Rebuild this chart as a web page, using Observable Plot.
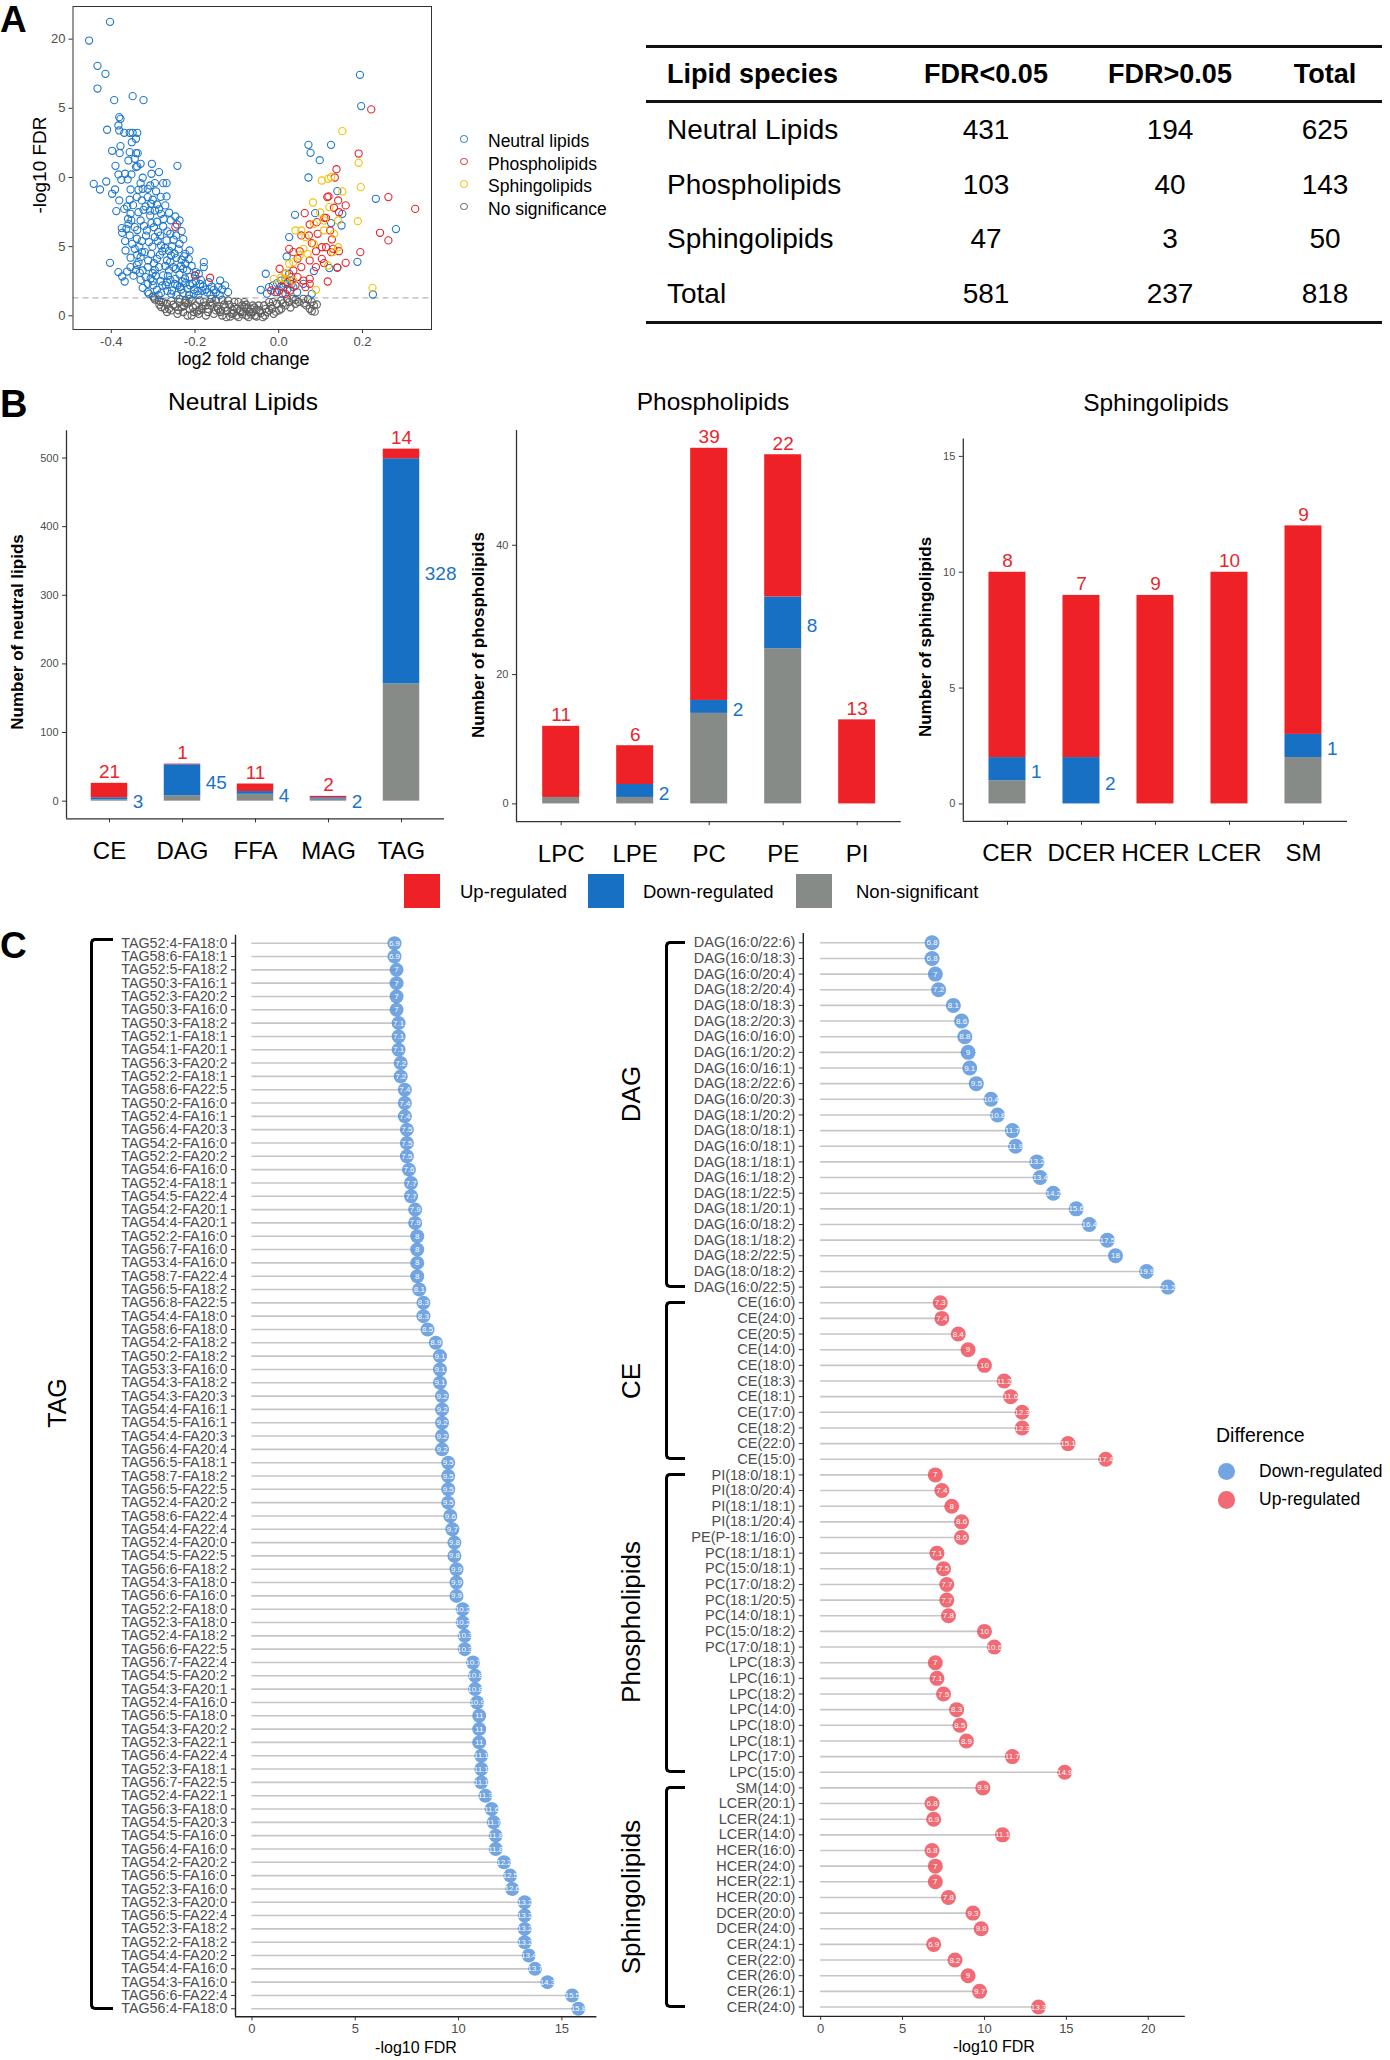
<!DOCTYPE html>
<html><head><meta charset="utf-8">
<script src="https://cdn.jsdelivr.net/npm/d3@7"></script>
<script src="https://cdn.jsdelivr.net/npm/@observablehq/plot@0.6"></script>
<style>
html,body{margin:0;padding:0;background:#fff;}
#fig{position:relative;width:1390px;height:2060px;font-family:"Liberation Sans",Arial,Helvetica,sans-serif;color:#000;overflow:hidden;background:#fff;}
.pbox{position:absolute;}
.pbox svg{background:none !important;overflow:visible;display:block;}
.letter{position:absolute;font-weight:bold;font-size:37px;line-height:1;}
.vlab{position:absolute;transform:translate(-50%,-50%) rotate(-90deg);white-space:nowrap;line-height:1;}
.hlab{position:absolute;transform:translate(-50%,-50%);white-space:nowrap;line-height:1;}
.lt{position:absolute;transform:translateY(-50%);white-space:nowrap;line-height:1;}
#pA g[aria-label^="x-axis"] text,#pA g[aria-label^="y-axis"] text{font-size:13px;fill:#4d4d4d;}
.bar g[aria-label^="y-axis"] text{font-size:11px;fill:#4d4d4d;}
.bar g[aria-label^="x-axis"] text{font-size:24px;fill:#000;}
#pC1 g[aria-label^="y-axis"] text{font-size:14.3px;fill:#4d4d4d;}
#pC2 g[aria-label^="y-axis"] text{font-size:14.5px;fill:#4d4d4d;}
.lol g[aria-label^="x-axis"] text{font-size:13px;fill:#4d4d4d;}
#tbl{position:absolute;left:646px;top:45px;width:736px;border-collapse:collapse;table-layout:fixed;}
#tbl th{font-weight:bold;font-size:27px;height:52px;padding:0;}
#tbl td{font-size:28px;height:54.5px;padding:0;}
#tbl thead tr{border-top:3px solid #111;border-bottom:3px solid #111;}
#tbl tbody tr:last-child{border-bottom:3px solid #111;}
#tbl .c1{text-align:left;padding-left:21px;}
#tbl .cn{text-align:center;}
.sq{position:absolute;}
.circ{position:absolute;border-radius:50%;box-sizing:border-box;}
.brk{position:absolute;border:3px solid #000;border-right:none;border-radius:5px 0 0 5px;box-sizing:border-box;}
</style>
</head>
<body>
<div id="fig"></div>
<script>
// ---------------- DATA ----------------
// Panel A volcano: [log2 fold change, -log10 FDR]
const neutralLipidPoints = [[-0.453,19.9],[-0.403,21.25],[-0.433,18.07],[-0.414,17.49],[-0.433,16.43],[-0.393,15.59],[-0.349,15.88],[-0.323,15.59],[-0.381,14.36],[-0.378,14.24],[-0.410,13.45],[-0.383,13.76],[-0.381,13.40],[-0.369,13.23],[-0.356,13.23],[-0.349,13.23],[-0.338,13.23],[-0.341,12.80],[-0.351,12.55],[-0.378,12.27],[-0.398,11.93],[-0.380,11.76],[-0.356,11.83],[-0.341,11.76],[-0.337,11.76],[-0.359,11.23],[-0.344,11.35],[-0.330,10.99],[-0.303,10.99],[-0.390,10.84],[-0.341,10.75],[-0.338,10.80],[-0.242,10.84],[-0.383,10.22],[-0.367,10.27],[-0.352,10.22],[-0.325,9.98],[-0.304,10.27],[-0.286,10.39],[-0.376,9.83],[-0.361,9.86],[-0.442,9.54],[-0.412,9.71],[-0.427,9.13],[-0.398,8.82],[-0.391,9.13],[-0.354,9.13],[-0.335,9.11],[-0.325,9.18],[-0.313,9.18],[-0.296,9.59],[-0.276,9.59],[-0.268,9.59],[-0.330,9.59],[-0.307,9.42],
[-0.381,8.34],[-0.356,8.39],[-0.339,8.58],[-0.327,8.34],[-0.313,8.58],[-0.301,8.39],[-0.291,8.05],[-0.268,8.63],[-0.271,7.98],
[-0.388,7.57],[-0.369,7.73],[-0.354,7.37],[-0.335,7.49],[-0.323,7.66],[-0.307,7.25],[-0.296,7.61],[-0.281,7.37],[-0.262,7.45],[-0.237,6.89],[-0.247,7.18],
[-0.375,6.34],[-0.359,6.65],[-0.344,6.41],[-0.330,6.89],[-0.315,6.17],[-0.304,6.70],[-0.288,6.05],[-0.276,6.46],[-0.259,5.93],[-0.232,6.12],[-0.228,5.54],[-0.374,6.00],[-0.364,6.29],
[-0.356,5.81],[-0.339,5.57],[-0.327,5.40],[-0.310,5.33],[-0.296,5.69],[-0.281,5.08],[-0.268,5.45],[-0.255,5.01],[-0.245,5.81],[-0.237,5.20],[-0.213,4.72],[-0.223,4.48],
[-0.366,4.72],[-0.344,4.84],[-0.330,4.24],[-0.320,4.60],[-0.305,4.48],[-0.291,4.12],[-0.278,4.67],[-0.267,4.00],[-0.257,4.36],[-0.245,4.19],[-0.232,4.05],[-0.223,3.76],[-0.403,3.83],[-0.335,3.88],
[-0.383,3.16],[-0.374,2.84],[-0.354,3.52],[-0.339,3.69],[-0.325,3.28],[-0.313,3.52],[-0.301,3.08],[-0.286,3.52],[-0.276,2.92],[-0.262,3.28],[-0.252,3.52],[-0.237,2.99],[-0.228,3.40],[-0.213,2.80],[-0.198,3.16],[-0.179,3.88],[-0.179,3.52],[-0.191,3.04],
[-0.368,2.48],[-0.330,2.60],[-0.325,2.02],[-0.313,2.31],[-0.301,2.51],[-0.291,1.88],[-0.278,2.19],[-0.267,2.43],[-0.255,1.83],[-0.242,2.19],[-0.230,2.48],[-0.218,1.95],[-0.206,2.31],[-0.194,1.78],[-0.181,2.12],[-0.167,2.43],[-0.155,1.88],[-0.140,2.55],[-0.145,2.07],[-0.121,1.71],[-0.310,1.59],[-0.281,1.64],[-0.257,1.59],[-0.228,1.64],[-0.203,1.59],[-0.171,1.69],[-0.313,1.71],[-0.198,2.51],[-0.223,2.36],[-0.247,2.67],[-0.265,2.89],
[-0.362,7.9],[-0.348,8.0],[-0.318,7.9],[-0.305,8.1],[-0.286,7.7],[-0.275,7.0],[-0.352,6.9],[-0.338,6.2],[-0.322,6.5],[-0.298,6.4],[-0.283,5.8],[-0.266,6.1],[-0.251,5.5],[-0.243,6.6],[-0.350,5.2],[-0.333,5.0],[-0.317,5.8],[-0.302,5.0],[-0.289,5.4],[-0.272,4.9],[-0.262,4.7],[-0.249,4.5],[-0.239,4.8],[-0.226,4.3],[-0.215,4.1],[-0.354,4.2],[-0.338,4.4],[-0.312,4.0],[-0.298,3.8],[-0.284,4.4],[-0.271,3.6],[-0.259,3.9],[-0.246,3.4],[-0.234,3.6],[-0.219,3.3],[-0.208,3.6],[-0.200,2.9],[-0.186,2.6],[-0.362,3.2],[-0.347,2.9],[-0.332,3.1],[-0.318,2.8],[-0.306,2.7],[-0.294,2.9],[-0.282,2.5],[-0.270,2.2],[-0.259,2.6],[-0.248,2.3],[-0.236,2.1],[-0.224,2.7],[-0.212,2.2],[-0.203,1.9],[-0.188,2.3],[-0.175,1.9],[-0.160,2.1],[-0.150,1.7],[-0.135,1.9],[-0.128,2.2],[-0.300,2.2],[-0.287,1.5],[-0.266,1.8],[-0.244,1.5],[-0.233,1.9],[-0.214,1.5],[-0.192,1.5],[-0.183,1.8],[-0.163,1.5],[-0.141,1.5],[-0.296,3.3],[-0.341,3.3],[-0.327,4.6],[-0.367,5.4],[-0.360,7.0],[-0.291,6.8],[-0.258,6.9],[-0.308,7.6],[-0.293,9.0],[-0.282,8.6],
[-0.031,3.04],[-0.043,1.88],[-0.023,2.07],[-0.014,2.19],[-0.004,2.36],[0.006,2.55],[0.011,2.07],[0.001,1.83],[0.016,2.67],[0.025,3.04],[-0.009,1.71],[0.016,2.31],[0.027,2.55],[0.019,4.29],[0.025,5.69],[0.039,7.30],[0.071,10.00],[0.076,11.78],[0.071,12.36],[0.125,12.36],[0.098,11.25],[0.140,9.01],[0.232,8.46],[0.087,7.42],[0.125,6.70],[0.150,6.53],[0.280,6.27],[0.188,3.90],[0.140,3.49],[0.121,3.45],[0.225,1.54],[0.079,1.59],[0.194,17.42],[0.197,15.16],[0.084,3.23],[0.059,2.31],[0.035,2.07],[0.152,7.37],[0.009,1.6],[0.021,1.9],[0.031,2.3],[0.044,1.7],[-0.028,1.6]];
const phospholipidPoints = [[0.221,14.92],[0.262,8.58],[0.326,7.73],[0.242,6.00],[0.262,5.45],[0.195,4.60],[0.160,3.83],[0.140,3.49],[0.117,2.48],[0.191,11.73],[0.138,10.60],[0.134,10.00],[0.116,8.58],[0.119,8.63],[0.142,8.34],[0.160,7.98],[0.132,7.81],[0.144,7.49],[0.062,7.42],[0.113,7.08],[0.109,7.08],[0.074,6.60],[0.091,6.77],[0.123,6.17],[0.093,5.93],[0.072,5.81],[0.054,5.81],[0.079,5.25],[0.103,4.96],[0.113,4.96],[0.089,4.67],[0.127,5.52],[0.130,4.84],[0.144,4.67],[0.125,4.60],[0.025,4.84],[0.035,4.60],[0.050,4.67],[0.045,4.12],[0.074,4.00],[0.103,4.12],[0.089,3.52],[0.108,3.81],[0.054,3.52],[0.035,3.28],[0.016,3.04],[0.030,2.80],[0.045,2.80],[0.059,2.55],[0.074,2.67],[0.020,2.43],[0.006,2.12],[-0.004,1.71],[0.016,1.59],[0.027,1.83],[0.040,2.19],[0.064,2.07],[0.002,3.40],[-0.247,6.43],[-0.200,2.92],[-0.164,2.75],[-0.018,1.83],[0.074,2.31]];
const sphingolipidPoints = [[0.152,13.35],[0.191,11.06],[0.196,9.30],[0.189,6.84],[0.224,2.02],[0.152,8.99],[0.103,9.78],[0.118,9.90],[0.125,10.02],[0.082,8.19],[0.099,7.47],[0.040,6.17],[0.084,6.65],[0.121,7.86],[0.142,6.89],[0.132,5.93],[0.108,6.17],[0.054,6.17],[0.064,5.69],[0.084,5.20],[0.142,4.96],[0.130,4.60],[0.059,4.84],[0.069,4.48],[0.050,4.36],[0.035,3.88],[0.025,3.76],[0.016,3.04],[-0.012,2.67],[0.006,2.75],[0.089,1.88],[0.016,2.67],[0.035,2.55],[0.118,3.64],[0.108,6.89]];
const noSignificancePoints = [[-0.298,1.30],[-0.296,1.18],[-0.267,0.27],[-0.276,0.99],[-0.267,0.87],[-0.257,1.06],[-0.247,0.67],[-0.237,1.23],[-0.232,0.63],[-0.223,0.94],[-0.213,0.51],[-0.208,1.11],[-0.198,0.75],[-0.191,0.14],[-0.184,0.51],[-0.179,0.99],[-0.169,0.27],[-0.161,0.75],[-0.155,0.14],[-0.150,1.11],[-0.145,0.51],[-0.135,0.02],[-0.130,0.82],[-0.123,0.39],[-0.121,1.11],[-0.113,0.14],[-0.106,0.63],[-0.101,0.02],[-0.093,0.39],[-0.087,0.10],[-0.082,0.63],[-0.077,0.02],[-0.070,0.27],[-0.062,0.75],[-0.057,0.02],[-0.053,0.43],[-0.043,0.19],[-0.035,0.75],[-0.028,0.27],[-0.023,0.99],[-0.016,0.51],[-0.012,0.14],[-0.004,0.87],[0.006,1.11],[0.016,0.75],[0.025,0.99],[0.033,1.23],[0.040,0.87],[0.059,1.23],[0.066,0.75],[0.074,0.51],[0.079,0.99],[0.084,0.75],[0.091,0.82],[0.079,0.34],[-0.281,0.63],[-0.257,0.39],[-0.242,0.14],[-0.228,0.27],[-0.218,0.02],[-0.203,0.27],[-0.174,0.02],[-0.140,0.27],[-0.116,-0.05],[-0.096,-0.10],[-0.072,-0.10],[-0.053,-0.05],[-0.033,0.02],[-0.213,1.23],[-0.189,1.11],[-0.160,1.23],[-0.135,1.16],[-0.096,0.99],[-0.082,0.99],[-0.237,0.99],[-0.262,0.51],[-0.281,0.99],[-0.208,0.02],[-0.125,-0.10],[-0.091,0.27],[-0.067,0.51],[-0.048,0.75],[-0.023,0.39],[0.006,0.51],[0.020,1.23],[0.040,1.16],[-0.301,1.40],[-0.286,1.11],[-0.223,1.11],[-0.174,0.75],[-0.164,0.99],[-0.106,0.99],[-0.087,0.75],[-0.062,0.27],[-0.038,-0.10],[-0.014,0.99],[0.001,0.39],[-0.150,0.39],[-0.190,0.40],[-0.110,0.40],[-0.075,0.60],
[-0.285,0.8],[-0.272,0.5],[-0.252,0.8],[-0.240,0.4],[-0.226,0.7],[-0.216,0.9],[-0.205,0.6],[-0.195,0.3],[-0.182,0.7],[-0.170,0.5],[-0.158,0.9],[-0.147,0.7],[-0.138,0.4],[-0.128,0.6],[-0.118,0.8],[-0.108,0.2],[-0.099,0.5],[-0.085,0.3],[-0.078,0.8],[-0.066,0.1],[-0.058,0.6],[-0.046,0.4],[-0.031,0.5],[-0.019,0.7],[-0.007,0.3],[0.010,0.9],[0.028,0.6],[0.048,1.0],[0.070,1.2],[0.086,0.3],[0.060,0.9]];
const fdrThreshold = 1.301;
const volcanoXTicks = [-0.4,-0.2,0.0,0.2];
const volcanoYTicks = [0,5,10,15,20];
const volcanoYTickLabels = ["0","5","0","5","20"];
const volcanoLegend = ["Neutral lipids","Phospholipids","Sphingolipids","No significance"];

// Panel A table
const tableHeader = ["Lipid species","FDR<0.05","FDR>0.05","Total"];
const tableSpecies = ["Neutral Lipids","Phospholipids","Sphingolipids","Total"];
const tableFdrLow = [431,103,47,581];
const tableFdrHigh = [194,40,3,237];
const tableTotal = [625,143,50,818];

// Panel B stacked bars
const statusNames = ["Up-regulated","Down-regulated","Non-significant"];
const neutralCats = ["CE","DAG","FFA","MAG","TAG"];
const neutralUp = [21,1,11,2,14];
const neutralDown = [3,45,4,2,328];
const neutralNS = [2,8,10,3,171];
const phosphoCats = ["LPC","LPE","PC","PE","PI"];
const phosphoUp = [11,6,39,22,13];
const phosphoDown = [0,2,2,8,0];
const phosphoNS = [1,1,14,24,0];
const sphingoCats = ["CER","DCER","HCER","LCER","SM"];
const sphingoUp = [8,7,9,10,9];
const sphingoDown = [1,2,0,0,1];
const sphingoNS = [1,0,0,0,2];

// Panel C lollipops (-log10 FDR)
const tagNames = ["TAG52:4-FA18:0","TAG58:6-FA18:1","TAG52:5-FA18:2","TAG50:3-FA16:1","TAG52:3-FA20:2","TAG50:3-FA16:0","TAG50:3-FA18:2","TAG52:1-FA18:1","TAG54:1-FA20:1","TAG56:3-FA20:2","TAG52:2-FA18:1","TAG58:6-FA22:5","TAG50:2-FA16:0","TAG52:4-FA16:1","TAG56:4-FA20:3","TAG54:2-FA16:0","TAG52:2-FA20:2","TAG54:6-FA16:0","TAG52:4-FA18:1","TAG54:5-FA22:4","TAG54:2-FA20:1","TAG54:4-FA20:1","TAG52:2-FA16:0","TAG56:7-FA16:0","TAG53:4-FA16:0","TAG58:7-FA22:4","TAG56:5-FA18:2","TAG56:8-FA22:5","TAG54:4-FA18:0","TAG58:6-FA18:0","TAG54:2-FA18:2","TAG50:2-FA18:2","TAG53:3-FA16:0","TAG54:3-FA18:2","TAG54:3-FA20:3","TAG54:4-FA16:1","TAG54:5-FA16:1","TAG54:4-FA20:3","TAG56:4-FA20:4","TAG56:5-FA18:1","TAG58:7-FA18:2","TAG56:5-FA22:5","TAG52:4-FA20:2","TAG58:6-FA22:4","TAG54:4-FA22:4","TAG52:4-FA20:0","TAG54:5-FA22:5","TAG56:6-FA18:2","TAG54:3-FA18:0","TAG56:6-FA16:0","TAG52:2-FA18:0","TAG52:3-FA18:0","TAG52:4-FA18:2","TAG56:6-FA22:5","TAG56:7-FA22:4","TAG54:5-FA20:2","TAG54:3-FA20:1","TAG52:4-FA16:0","TAG56:5-FA18:0","TAG54:3-FA20:2","TAG52:3-FA22:1","TAG56:4-FA22:4","TAG52:3-FA18:1","TAG56:7-FA22:5","TAG52:4-FA22:1","TAG56:3-FA18:0","TAG54:5-FA20:3","TAG54:5-FA16:0","TAG56:4-FA16:0","TAG54:2-FA20:2","TAG56:5-FA16:0","TAG52:3-FA16:0","TAG52:3-FA20:0","TAG56:5-FA22:4","TAG52:3-FA18:2","TAG52:2-FA18:2","TAG54:4-FA20:2","TAG54:4-FA16:0","TAG54:3-FA16:0","TAG56:6-FA22:4","TAG56:4-FA18:0"];
const tagFDR = [6.9,6.9,7,7,7,7,7.1,7.1,7.1,7.2,7.2,7.4,7.4,7.4,7.5,7.5,7.5,7.6,7.7,7.7,7.9,7.9,8,8,8,8,8.1,8.3,8.3,8.5,8.9,9.1,9.1,9.1,9.2,9.2,9.2,9.2,9.2,9.5,9.5,9.5,9.5,9.6,9.7,9.8,9.8,9.9,9.9,9.9,10.2,10.2,10.3,10.3,10.7,10.8,10.8,10.9,11,11,11,11.1,11.1,11.1,11.3,11.6,11.7,11.8,11.8,12.2,12.5,12.6,13.2,13.2,13.2,13.2,13.4,13.7,14.3,15.5,15.8];
const dagNames = ["DAG(16:0/22:6)","DAG(16:0/18:3)","DAG(16:0/20:4)","DAG(18:2/20:4)","DAG(18:0/18:3)","DAG(18:2/20:3)","DAG(16:0/16:0)","DAG(16:1/20:2)","DAG(16:0/16:1)","DAG(18:2/22:6)","DAG(16:0/20:3)","DAG(18:1/20:2)","DAG(18:0/18:1)","DAG(16:0/18:1)","DAG(18:1/18:1)","DAG(16:1/18:2)","DAG(18:1/22:5)","DAG(18:1/20:1)","DAG(16:0/18:2)","DAG(18:1/18:2)","DAG(18:2/22:5)","DAG(18:0/18:2)","DAG(16:0/22:5)"];
const dagFDR = [6.8,6.8,7,7.2,8.1,8.6,8.8,9,9.1,9.5,10.4,10.8,11.7,11.9,13.2,13.4,14.2,15.6,16.4,17.5,18,19.9,21.2];
const ceNames = ["CE(16:0)","CE(24:0)","CE(20:5)","CE(14:0)","CE(18:0)","CE(18:3)","CE(18:1)","CE(17:0)","CE(18:2)","CE(22:0)","CE(15:0)"];
const ceFDR = [7.3,7.4,8.4,9,10,11.2,11.6,12.3,12.3,15.1,17.4];
const plNames = ["PI(18:0/18:1)","PI(18:0/20:4)","PI(18:1/18:1)","PI(18:1/20:4)","PE(P-18:1/16:0)","PC(18:1/18:1)","PC(15:0/18:1)","PC(17:0/18:2)","PC(18:1/20:5)","PC(14:0/18:1)","PC(15:0/18:2)","PC(17:0/18:1)","LPC(18:3)","LPC(16:1)","LPC(18:2)","LPC(14:0)","LPC(18:0)","LPC(18:1)","LPC(17:0)","LPC(15:0)"];
const plFDR = [7,7.4,8,8.6,8.6,7.1,7.5,7.7,7.7,7.8,10,10.6,7,7.1,7.5,8.3,8.5,8.9,11.7,14.9];
const slNames = ["SM(14:0)","LCER(20:1)","LCER(24:1)","LCER(14:0)","HCER(16:0)","HCER(24:0)","HCER(22:1)","HCER(20:0)","DCER(20:0)","DCER(24:0)","CER(24:1)","CER(22:0)","CER(26:0)","CER(26:1)","CER(24:0)"];
const slFDR = [9.9,6.8,6.9,11.1,6.8,7,7,7.8,9.3,9.8,6.9,8.2,9,9.7,13.3];
const differenceNames = ["Down-regulated","Up-regulated"];

// ---------------- STYLE ----------------
const FONT = "Liberation Sans, Arial, Helvetica, sans-serif";
const colNeutral = "#1F77C9", colPhospho = "#E8242A", colSphingo = "#F5C000", colNoSig = "#5E5E5E";
const barColors = ["#EE2226","#1870C5","#878B88"];
const upText = "#E8262B", downText = "#1A73C8";
const lolBlue = "#4F8FD9", lolRed = "#EE4653";

const fig = document.getElementById("fig");
function el(tag, cls, css, text) {
  const e = document.createElement(tag);
  if (cls) e.className = cls;
  if (css) e.style.cssText = css;
  if (text != null) e.textContent = text;
  fig.appendChild(e);
  return e;
}
function box(id, cls, left, top, w, h, svg) {
  const d = el("div", "pbox " + (cls||""), `left:${left}px;top:${top}px;width:${w}px;height:${h}px;`);
  d.id = id;
  d.appendChild(svg);
  return d;
}
const baseStyle = {background: "none", overflow: "visible", fontFamily: FONT, color: "#333"};

// ---------------- PANEL A ----------------
el("div", "letter", "left:0px;top:1px;", "A");
const pt = a => ({x: a[0], y: a[1]});
const volcano = Plot.plot({
  width: 440, height: 375, marginLeft: 72.5, marginRight: 9, marginTop: 6, marginBottom: 46,
  style: baseStyle,
  x: {domain: [-0.4915, 0.365], ticks: volcanoXTicks, tickFormat: d => d.toFixed(1), tickSize: 4, tickPadding: 3, label: null},
  y: {domain: [-0.99, 22.36], ticks: volcanoYTicks, tickFormat: d => volcanoYTickLabels[volcanoYTicks.indexOf(d)], tickSize: 4, tickPadding: 3.5, label: null},
  marks: [
    Plot.ruleY([fdrThreshold], {stroke: "#b8b8b8", strokeWidth: 1.2, strokeDasharray: "6,4"}),
    Plot.dot(noSignificancePoints.map(pt), {x: "x", y: "y", r: 3.6, stroke: colNoSig, strokeWidth: 1.1}),
    Plot.dot(neutralLipidPoints.map(pt), {x: "x", y: "y", r: 3.6, stroke: colNeutral, strokeWidth: 1.1}),
    Plot.dot(phospholipidPoints.map(pt), {x: "x", y: "y", r: 3.6, stroke: colPhospho, strokeWidth: 1.1}),
    Plot.dot(sphingolipidPoints.map(pt), {x: "x", y: "y", r: 3.6, stroke: colSphingo, strokeWidth: 1.1}),
    Plot.frame({stroke: "#333", strokeWidth: 1})
  ]
});
box("pA", "", 0, 0, 440, 375, volcano);
el("div", "hlab", "left:243.5px;top:359px;font-size:18px;", "log2 fold change");
el("div", "vlab", "left:39px;top:165px;font-size:19px;", "-log10 FDR");
const legACols = [colNeutral, colPhospho, colSphingo, colNoSig];
const legAY = [139, 161.5, 184, 206.5];
volcanoLegend.forEach((t, i) => {
  el("div", "circ", `left:${464-3.8}px;top:${legAY[i]-3.8}px;width:7.6px;height:7.6px;border:1.2px solid ${legACols[i]};`);
  el("div", "lt", `left:488px;top:${legAY[i]+3}px;font-size:17.5px;`, t);
});

// table
const tbl = document.createElement("table");
tbl.id = "tbl";
const cg = document.createElement("colgroup");
[254,172,196,114].forEach(w => { const c = document.createElement("col"); c.style.width = w + "px"; cg.appendChild(c); });
tbl.appendChild(cg);
const thead = document.createElement("thead");
const htr = document.createElement("tr");
tableHeader.forEach((h, i) => { const th = document.createElement("th"); th.className = i ? "cn" : "c1"; th.textContent = h; htr.appendChild(th); });
thead.appendChild(htr); tbl.appendChild(thead);
const tbody = document.createElement("tbody");
tableSpecies.forEach((s, i) => {
  const tr = document.createElement("tr");
  [s, tableFdrLow[i], tableFdrHigh[i], tableTotal[i]].forEach((v, j) => {
    const td = document.createElement("td"); td.className = j ? "cn" : "c1"; td.textContent = String(v); tr.appendChild(td);
  });
  tbody.appendChild(tr);
});
tbl.appendChild(tbody);
fig.appendChild(tbl);

// ---------------- PANEL B ----------------
el("div", "letter", "left:0px;top:385px;font-size:38px;", "B");
function barChart(id, left, cats, up, down, ns, o) {
  const rows = cats.map((c, i) => ({c, pos: i + 1, ns: ns[i], down: down[i], up: up[i]}));
  const segs = rows.flatMap(r => [
    {pos: r.pos, y1: 0, y2: r.ns, status: statusNames[2]},
    {pos: r.pos, y1: r.ns, y2: r.ns + r.down, status: statusNames[1]},
    {pos: r.pos, y1: r.ns + r.down, y2: r.ns + r.down + r.up, status: statusNames[0]}
  ]).filter(s => s.y2 > s.y1);
  const svg = Plot.plot({
    width: o.w, height: 450, marginLeft: o.ml, marginRight: o.mr, marginTop: o.mt, marginBottom: o.mb,
    style: baseStyle,
    x: {domain: o.xd, ticks: rows.map(r => r.pos), tickFormat: p => cats[p - 1], tickSize: 4, tickPadding: 19, label: null},
    y: {domain: o.yd, ticks: o.yt, tickSize: 4, tickPadding: 4, label: null},
    color: {domain: statusNames, range: barColors},
    marks: [
      Plot.rect(segs, {x1: d => d.pos - 0.25, x2: d => d.pos + 0.25, y1: "y1", y2: "y2", fill: "status"}),
      Plot.text(rows.filter(r => r.up > 0), {x: "pos", y: r => r.ns + r.down + r.up, text: r => String(r.up), dy: -11, fill: upText, fontSize: 19}),
      Plot.text(rows.filter(r => r.down > 0), {x: r => r.pos + 0.25, y: r => r.ns + r.down / 2, text: r => String(r.down), dx: 5, dy: 3, textAnchor: "start", fill: downText, fontSize: 19}),
      Plot.ruleX([o.xd[0]], {stroke: "#333", strokeWidth: 1.3}),
      Plot.ruleY([o.yd[0]], {stroke: "#333", strokeWidth: 1.3})
    ]
  });
  box(id, "bar", left, 420, o.w, 450, svg);
}
barChart("pB1", 0, neutralCats, neutralUp, neutralDown, neutralNS,
  {w: 450, ml: 66, mr: 6, mt: 10.3, mb: 51.7, xd: [0.411, 5.589], yd: [-25.7, 539.7], yt: [0,100,200,300,400,500]});
barChart("pB2", 460, phosphoCats, phosphoUp, phosphoDown, phosphoNS,
  {w: 450, ml: 56, mr: 9.3, mt: 10, mb: 48.8, xd: [0.396, 5.595], yd: [-2.75, 57.75], yt: [0,20,40]});
barChart("pB3", 905, sphingoCats, sphingoUp, sphingoDown, sphingoNS,
  {w: 450, ml: 57.8, mr: 8, mt: 18.5, mb: 49.2, xd: [0.403, 5.595], yd: [-0.75, 15.75], yt: [0,5,10,15]});
el("div", "hlab", "left:243px;top:402px;font-size:24.5px;", "Neutral Lipids");
el("div", "hlab", "left:713px;top:402px;font-size:24.5px;", "Phospholipids");
el("div", "hlab", "left:1156px;top:403px;font-size:24.5px;", "Sphingolipids");
el("div", "vlab", "left:17px;top:632px;font-size:17px;font-weight:bold;", "Number of neutral lipids");
el("div", "vlab", "left:478px;top:635px;font-size:17px;font-weight:bold;", "Number of phospholipids");
el("div", "vlab", "left:925px;top:637px;font-size:17px;font-weight:bold;", "Number of sphingolipids");
const legBx = [[404, 460], [587.5, 643], [795.5, 856]];
statusNames.forEach((s, i) => {
  el("div", "sq", `left:${legBx[i][0]}px;top:874px;width:36px;height:34px;background:${barColors[i]};`);
  el("div", "lt", `left:${legBx[i][1]}px;top:892px;font-size:18.5px;`, s);
});

// ---------------- PANEL C ----------------
el("div", "letter", "left:0px;top:927px;", "C");
function lollipop(id, left, w, names, vals, dirs, o) {
  const rows = names.map((n, i) => ({i, n, v: vals[i], d: dirs[i]}));
  const svg = Plot.plot({
    width: w, height: 1135, marginLeft: o.ml, marginRight: o.mr, marginTop: o.mt, marginBottom: o.mb,
    style: baseStyle,
    x: {domain: o.xd, ticks: o.xt, tickSize: 4, tickPadding: 3, label: null},
    y: {domain: [-0.6, names.length - 0.4], reverse: true, ticks: rows.map(r => r.i), tickFormat: i => names[i], tickSize: 4, tickPadding: 4, label: null},
    color: {domain: differenceNames, range: [lolBlue, lolRed]},
    marks: [
      Plot.ruleY(rows, {y: "i", x1: 0, x2: "v", stroke: "#c6c6c6", strokeWidth: 1.6}),
      Plot.dot(rows, {x: "v", y: "i", r: o.r, fill: "d", fillOpacity: 0.8}),
      Plot.text(rows, {x: "v", y: "i", text: r => String(r.v), fill: "white", fontSize: 8}),
      Plot.ruleX([o.xd[0]], {stroke: "#222", strokeWidth: 1.4}),
      Plot.ruleY([names.length - 0.4], {stroke: "#222", strokeWidth: 1.4})
    ]
  });
  box(id, "lol", left, 925, w, 1135, svg);
}
lollipop("pC1", 0, 600, tagNames, tagFDR, tagNames.map(() => differenceNames[0]),
  {ml: 235, mr: 3.6, mt: 9.7, mb: 43.7, xd: [-0.795, 16.695], xt: [0,5,10,15], r: 7});
const rightNames = [...dagNames, ...ceNames, ...plNames, ...slNames];
const rightFDR = [...dagFDR, ...ceFDR, ...plFDR, ...slFDR];
const rightDirs = rightNames.map((n, i) => i < dagNames.length ? differenceNames[0] : differenceNames[1]);
lollipop("pC2", 600, 590, rightNames, rightFDR, rightDirs,
  {ml: 202.8, mr: 5.2, mt: 7.9, mb: 44.1, xd: [-1.06, 22.26], xt: [0,5,10,15,20], r: 7.5});
el("div", "hlab", "left:416px;top:2048px;font-size:16px;", "-log10 FDR");
el("div", "hlab", "left:994px;top:2047px;font-size:16px;", "-log10 FDR");

// brackets and group labels
const tagTop = 925 + 9.7, tagStep = (1135 - 9.7 - 43.7) / (tagNames.length + 0.2);
const tagRow = i => tagTop + (i + 0.6) * tagStep;
el("div", "brk", `left:89.5px;top:${tagRow(0) - 5}px;width:23px;height:${tagRow(tagNames.length - 1) - tagRow(0) + 7}px;`);
el("div", "vlab", "left:57px;top:1403px;font-size:25px;", "TAG");
const rTop = 925 + 7.9, rStep = (1135 - 7.9 - 44.1) / (rightNames.length + 0.2);
const rRow = i => rTop + (i + 0.6) * rStep;
const groups = [["DAG", dagNames.length, 1094], ["CE", ceNames.length, 1381], ["Phospholipids", plNames.length, 1622], ["Sphingolipids", slNames.length, 1897]];
let start = 0;
groups.forEach(([g, n, cy]) => {
  const t = rRow(start) - 1.5, b = rRow(start + n - 1) + 1.5;
  el("div", "brk", `left:664.5px;top:${t}px;width:20px;height:${b - t}px;`);
  el("div", "vlab", `left:631px;top:${cy}px;font-size:26px;`, g);
  start += n;
});

// legend C
el("div", "lt", "left:1216px;top:1436px;font-size:19.5px;", "Difference");
[lolBlue, lolRed].forEach((c, i) => {
  const cy = 1471.5 + i * 28.5;
  el("div", "circ", `left:${1226.7 - 8.7}px;top:${cy - 8.7}px;width:17.4px;height:17.4px;background:${c};opacity:0.8;`);
  el("div", "lt", `left:1259px;top:${cy}px;font-size:17.5px;`, differenceNames[i]);
});
</script>
</body></html>
